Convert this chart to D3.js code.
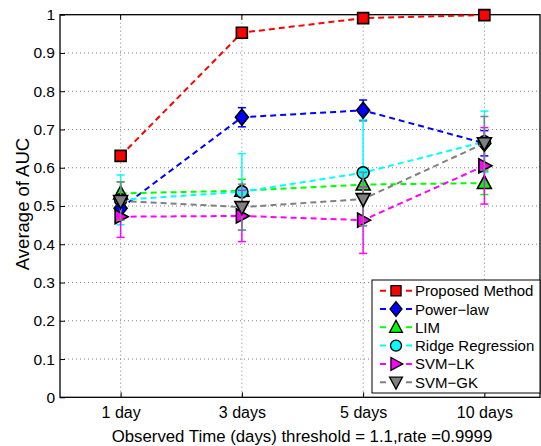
<!DOCTYPE html>
<html><head><meta charset="utf-8">
<script src="https://cdn.jsdelivr.net/npm/d3@7"></script>
<style>body{margin:0;background:#fff}svg{display:block}text{font-family:"Liberation Sans",Arial,sans-serif}</style>
</head><body><div id="chart"></div>
<script>
const categories = ["1 day", "3 days", "5 days", "10 days"];
const seriesNames = ["Proposed Method", "Power\u2212law", "LIM", "Ridge Regression", "SVM\u2212LK", "SVM\u2212GK"];
const seriesColors = ["#ff0000", "#0000ff", "#00ff00", "#00ffff", "#ff00ff", "#808080"];
const seriesMarkers = ["square", "diamond", "triUp", "circle", "triRight", "triDown"];
const proposed = [0.631, 0.953, 0.991, 0.999];
const proposedErr = [0.012, 0.008, 0.005, 0.003];
const powerLaw = [0.494, 0.732, 0.750, 0.664];
const powerLawErr = [0.02, 0.025, 0.027, 0.033];
const lim = [0.533, 0.540, 0.556, 0.560];
const limErr = [0.03, 0.03, 0.03, 0.03];
const ridge = [0.516, 0.537, 0.587, 0.668];
const ridgeErr = [0.065, 0.10, 0.138, 0.08];
const svmLK = [0.472, 0.474, 0.463, 0.605];
const svmLKErr = [0.054, 0.067, 0.087, 0.10];
const svmGK = [0.513, 0.497, 0.518, 0.664];
const svmGKErr = [0.05, 0.06, 0.07, 0.07];
const yTicks = [0, 0.1, 0.2, 0.3, 0.4, 0.5, 0.6, 0.7, 0.8, 0.9, 1];

const seriesValues = [proposed, powerLaw, lim, ridge, svmLK, svmGK];
const seriesErrs = [proposedErr, powerLawErr, limErr, ridgeErr, svmLKErr, svmGKErr];

const W = 541, H = 446;
const L = 60, R = 540, T = 14.7, B = 397.3;
const svg = d3.select("#chart").append("svg").attr("width", W).attr("height", H);

const x = d3.scaleLinear().domain([0.5, 4.5]).range([L, 545]);
const y = d3.scaleLinear().domain([0, 1]).range([B, T]);

// grid
const grid = svg.append("g");
yTicks.slice(1, -1).forEach(t => {
  grid.append("line").attr("x1", L).attr("x2", R).attr("y1", y(t)).attr("y2", y(t))
    .attr("stroke", "#808080").attr("stroke-width", 1).attr("stroke-dasharray", "1,3");
});
categories.forEach((c, i) => {
  grid.append("line").attr("x1", x(i + 1)).attr("x2", x(i + 1)).attr("y1", T).attr("y2", B)
    .attr("stroke", "#808080").attr("stroke-width", 1).attr("stroke-dasharray", "1,3");
});

const FONT = "Liberation Sans, Arial, sans-serif";
// axes
const yAxis = d3.axisLeft(y).tickValues(yTicks).tickFormat(d => d3.format("")(+d.toFixed(1))).tickSize(-5).tickPadding(5);
const yg = svg.append("g").attr("transform", `translate(${L},0)`).call(yAxis);
yg.select(".domain").remove();
yg.selectAll("text").attr("font-size", 15.5).attr("fill", "#000").style("font-family", FONT);
yg.selectAll("line").attr("stroke", "#000");

const xAxis = d3.axisBottom(x).tickValues([1, 2, 3, 4]).tickFormat((d, i) => categories[i]).tickSize(-5).tickPadding(9);
const xg = svg.append("g").attr("transform", `translate(0,${B})`).call(xAxis);
xg.select(".domain").remove();
xg.selectAll("text").attr("font-size", 16).attr("fill", "#000").style("font-family", FONT);
xg.selectAll("line").attr("stroke", "#000");

// top ticks
categories.forEach((c, i) => {
  svg.append("line").attr("x1", x(i + 1)).attr("x2", x(i + 1)).attr("y1", T).attr("y2", T + 5).attr("stroke", "#000");
});

svg.append("rect").attr("x", L).attr("y", T).attr("width", R - L).attr("height", B - T)
  .attr("fill", "none").attr("stroke", "#000").attr("stroke-width", 1.3);

function markerPath(type) {
  switch (type) {
    case "square": return "M-5.5,-5.5L5.5,-5.5L5.5,5.5L-5.5,5.5Z";
    case "diamond": return "M0,-8L6.5,0L0,8L-6.5,0Z";
    case "triUp": return "M0,-7.5L7,5.5L-7,5.5Z";
    case "triDown": return "M0,7.5L7,-5.5L-7,-5.5Z";
    case "triRight": return "M7.5,0L-5.5,7L-5.5,-7Z";
    case "circle": return "M-6,0A6,6 0 1,0 6,0A6,6 0 1,0 -6,0Z";
  }
}

const line = d3.line().x((d, i) => x(i + 1)).y(d => y(d));
const plot = svg.append("g");
seriesValues.forEach((vals, s) => {
  const g = plot.append("g");
  const col = seriesColors[s];
  vals.forEach((v, i) => {
    const e = seriesErrs[s][i];
    const cx = x(i + 1);
    g.append("line").attr("x1", cx).attr("x2", cx).attr("y1", y(v - e)).attr("y2", y(v + e))
      .attr("stroke", col).attr("stroke-width", 1.5);
    [v - e, v + e].forEach(t => {
      g.append("line").attr("x1", cx - 4).attr("x2", cx + 4).attr("y1", y(t)).attr("y2", y(t))
        .attr("stroke", col).attr("stroke-width", 1.5);
    });
  });
  g.append("path").datum(vals).attr("d", line).attr("fill", "none").attr("stroke", col)
    .attr("stroke-width", 2).attr("stroke-dasharray", "6,4");
  vals.forEach((v, i) => {
    g.append("path").attr("d", markerPath(seriesMarkers[s]))
      .attr("transform", `translate(${x(i + 1)},${y(v)})`)
      .attr("fill", col).attr("stroke", "#000").attr("stroke-width", 1.6);
  });
});

// legend
const lg = svg.append("g");
lg.append("rect").attr("x", 372).attr("y", 280).attr("width", 168).attr("height", 113)
  .attr("fill", "#fff").attr("stroke", "#000").attr("stroke-width", 1);
seriesNames.forEach((name, s) => {
  const yy = 290.7 + s * 18.3;
  const col = seriesColors[s];
  lg.append("line").attr("x1", 380).attr("x2", 412).attr("y1", yy).attr("y2", yy)
    .attr("stroke", col).attr("stroke-width", 2).attr("stroke-dasharray", "6,20");
  lg.append("path").attr("d", markerPath(seriesMarkers[s])).attr("transform", `translate(396,${yy}) scale(0.92)`)
    .attr("fill", col).attr("stroke", "#000").attr("stroke-width", 1.4);
  lg.append("text").attr("x", 415).attr("y", yy + 5.5).attr("font-size", 15).text(name);
});

// axis labels
svg.append("text").attr("x", 302).attr("y", 442).attr("text-anchor", "middle").attr("font-size", 16.8)
  .text("Observed Time (days) threshold = 1.1,rate =0.9999");
svg.append("text").attr("transform", "translate(29,204) rotate(-90)").attr("text-anchor", "middle")
  .attr("font-size", 18.5).text("Average of AUC");
</script></body></html>
